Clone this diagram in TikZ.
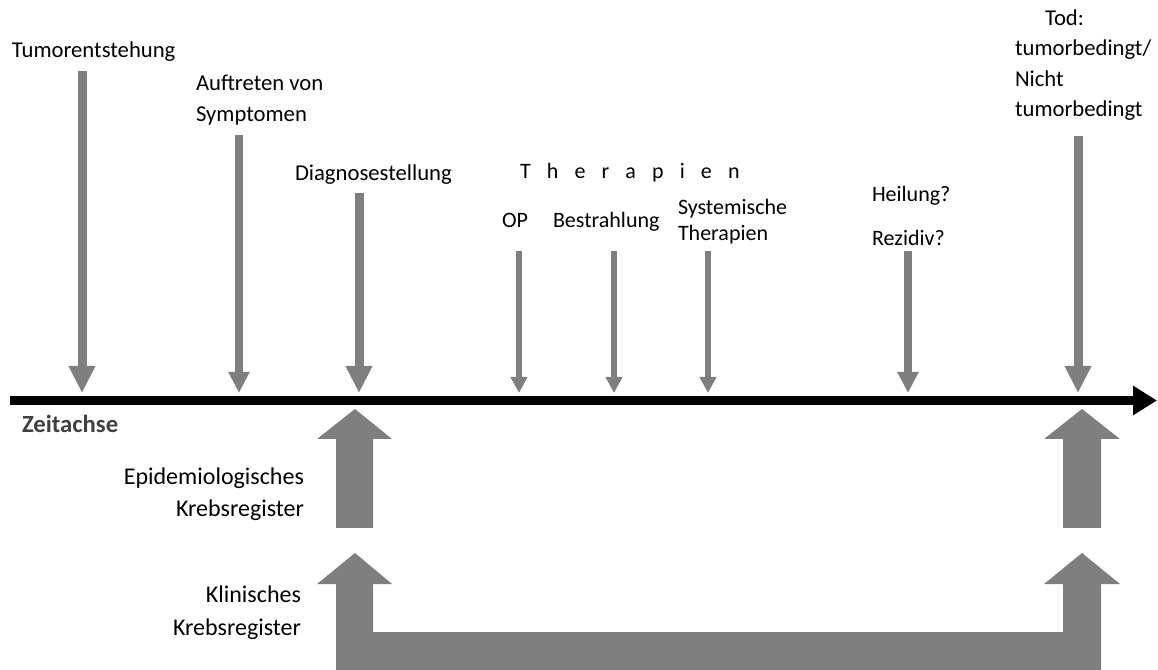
\documentclass[tikz,border=0pt]{standalone}
\usepackage{fontspec}
\setmainfont{Carlito}
\usetikzlibrary{arrows.meta}
\definecolor{arrgray}{RGB}{127,127,127}
\definecolor{zcol}{RGB}{64,64,64}
\newcommand{\tsp}{\hspace{12.1pt}}
\begin{document}
\begin{tikzpicture}[x=0.75pt,y=-0.75pt,
  lbl/.style={inner sep=0pt,outer sep=0pt,font=\fontsize{17}{23.25}\selectfont,text=black},
  sml/.style={font=\fontsize{16.5}{19.5}\selectfont},
  low/.style={font=\fontsize{18}{24.4}\selectfont},
  bigarr/.style={draw=arrgray,line width=6.75pt,-{Triangle[width=18.75pt,length=20.25pt]}},
  midarr/.style={draw=arrgray,line width=5.6pt,-{Triangle[width=15pt,length=15.75pt]}},
  smallarr/.style={draw=arrgray,line width=4.5pt,-{Triangle[width=12pt,length=12pt]}},
  axisarr/.style={draw=black,line width=6.75pt,-{Triangle[width=21pt,length=18pt]}},
  block/.style={fill=arrgray,draw=none}]
\useasboundingbox (0,0) rectangle (1158,670);

% labels
\node[lbl,anchor=base west] (tumor) at (12,58) {Tumorentstehung};
\node[lbl,anchor=base west,align=left] (sympt) at (196,122) {Auftreten von\\Symptomen};
\node[lbl,anchor=base west] (diag) at (295,181) {Diagnosestellung};
\node[lbl,sml,anchor=base west] (ther) at (520,179) {T\tsp h\tsp e\tsp r\tsp a\tsp p\tsp i\tsp e\tsp n};
\node[lbl,sml,anchor=base west] (op) at (502,228) {OP};
\node[lbl,sml,anchor=base west] (bestr) at (553,228) {Bestrahlung};
\node[lbl,sml,anchor=base west,align=left] (syst) at (678,241) {Systemische\\Therapien};
\node[lbl,sml,anchor=base west] (heil) at (872,202) {Heilung?};
\node[lbl,sml,anchor=base west] (rez) at (872,246) {Rezidiv?};
\node[lbl,anchor=base west,align=left,font=\fontsize{17}{22.9}\selectfont] (tod) at (1015,117) {\hspace*{22.5pt}Tod:\\tumorbedingt/\\Nicht\\tumorbedingt};
\node[lbl,anchor=base west,text=zcol,font=\fontsize{18.5}{20}\selectfont\bfseries] (zeit) at (22,433) {Zeitachse};
\node[lbl,low,anchor=base east,align=right] (epi) at (304,517) {Epidemiologisches\\Krebsregister};
\node[lbl,low,anchor=base east,align=right,font=\fontsize{18}{24.75}\selectfont] (klin) at (301,635) {Klinisches\\Krebsregister};

% axis
\coordinate (axL) at (10,400.5);
\coordinate (axR) at (1157,400.5);
\draw[axisarr] (axL) -- (axR);

% event arrows
\coordinate (tumA) at (82,71);   \coordinate (tumB) at (82,393);
\coordinate (symA) at (239,135); \coordinate (symB) at (239,393);
\coordinate (diaA) at (359,193); \coordinate (diaB) at (359,393);
\coordinate (opA) at (519,251);  \coordinate (opB) at (519,393);
\coordinate (besA) at (614,251); \coordinate (besB) at (614,393);
\coordinate (sysA) at (708,251); \coordinate (sysB) at (708,393);
\coordinate (heiA) at (908,251); \coordinate (heiB) at (908,393);
\coordinate (todA) at (1078,136);\coordinate (todB) at (1078,393);
\draw[bigarr] (tumA) -- (tumB);
\draw[midarr] (symA) -- (symB);
\draw[bigarr] (diaA) -- (diaB);
\draw[smallarr] (opA) -- (opB);
\draw[smallarr] (besA) -- (besB);
\draw[smallarr] (sysA) -- (sysB);
\draw[midarr] (heiA) -- (heiB);
\draw[bigarr] (todA) -- (todB);

% epidemiological register arrows
\fill[block] (355,409) -- (392,439) -- (373,439) -- (373,528) -- (336,528) -- (336,439) -- (317,439) -- cycle;
\fill[block] (1082,409) -- (1120,439) -- (1101,439) -- (1101,528) -- (1063,528) -- (1063,439) -- (1044,439) -- cycle;

% clinical register arrow
\fill[block] (355,553) -- (392,584) -- (373,584) -- (373,632) -- (1063,632) -- (1063,584) -- (1044,584) -- (1082,553) -- (1120,584) -- (1101,584) -- (1101,670) -- (336,670) -- (336,584) -- (317,584) -- cycle;
\end{tikzpicture}
\end{document}
